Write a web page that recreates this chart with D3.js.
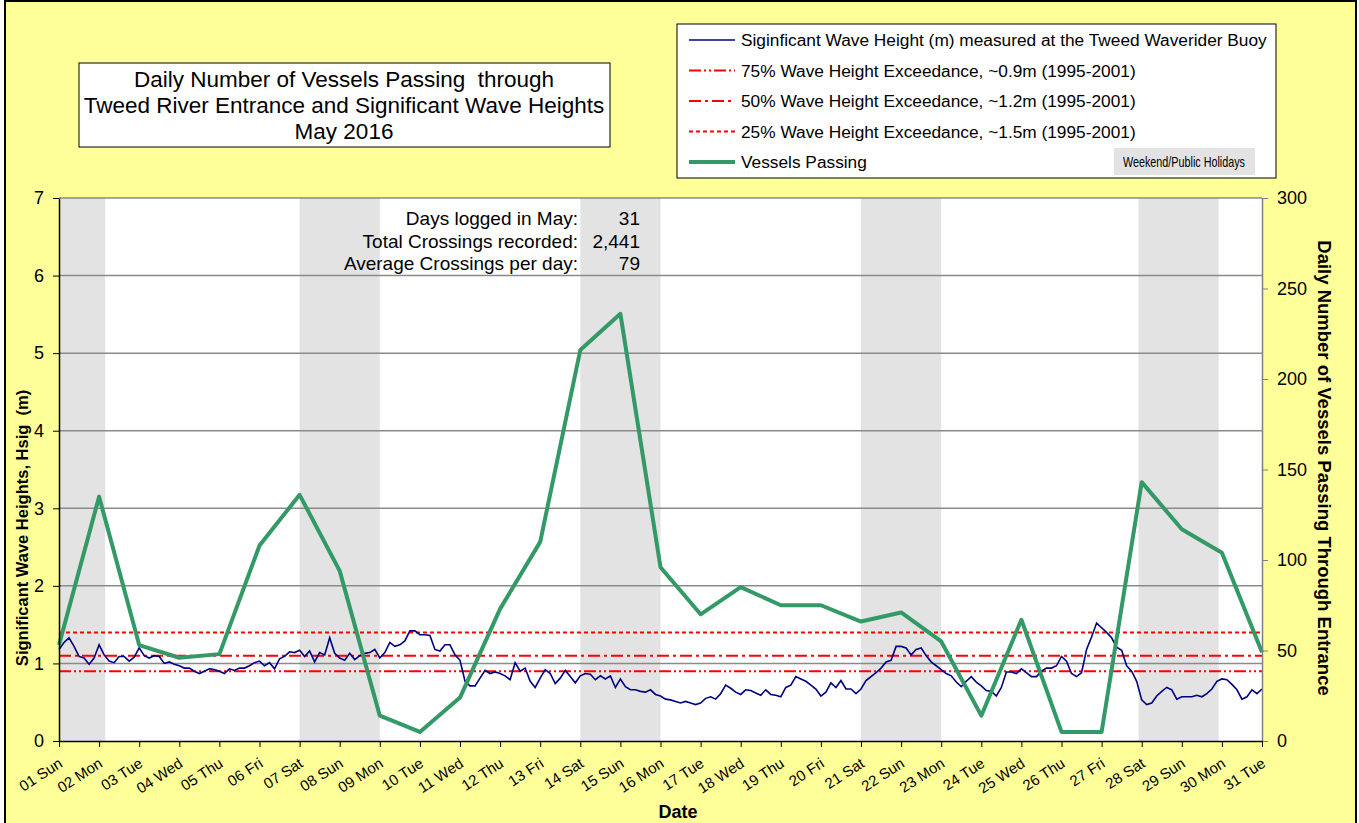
<!DOCTYPE html>
<html>
<head>
<meta charset="utf-8">
<script src="https://cdn.jsdelivr.net/npm/d3@7"></script>
<style>
  body { margin: 0; background: #fff; }
  text { font-family: "Liberation Sans", Arial, sans-serif; fill: #000; }
</style>
</head>
<body>
<svg width="1359" height="823"></svg>
<script>
// ---- data ----
const dayLabels = ["01 Sun","02 Mon","03 Tue","04 Wed","05 Thu","06 Fri","07 Sat","08 Sun","09 Mon","10 Tue",
  "11 Wed","12 Thu","13 Fri","14 Sat","15 Sun","16 Mon","17 Tue","18 Wed","19 Thu","20 Fri",
  "21 Sat","22 Sun","23 Mon","24 Tue","25 Wed","26 Thu","27 Fri","28 Sat","29 Sun","30 Mon","31 Tue"];

// daily vessels passing (right axis)
const vessels = [53,135,53,46,48,108,136,94,14,5,24,73,110,216,236,96,70,85,75,75,66,71,55,14,67,5,5,143,117,104,49];

// significant wave height (m), one reading every 3 hours from 1 May 00:00
const waveStartDay = 1;
const waveStepHours = 3;
const waveHs = [
  1.18,1.27,1.33,1.22,1.09,1.07,0.99,1.07,
  1.24,1.11,1.03,1.01,1.09,1.09,1.03,1.08,
  1.20,1.10,1.07,1.10,1.09,1.00,1.02,0.99,
  0.97,0.94,0.94,0.90,0.87,0.90,0.93,0.92,
  0.90,0.87,0.93,0.91,0.94,0.94,0.97,1.01,
  1.03,0.97,1.01,0.93,1.06,1.09,1.15,1.14,
  1.17,1.09,1.16,1.02,1.14,1.11,1.33,1.13,
  1.07,1.04,1.13,1.05,1.10,1.13,1.14,1.18,
  1.07,1.14,1.27,1.22,1.24,1.29,1.42,1.42,
  1.37,1.37,1.36,1.18,1.16,1.24,1.24,1.11,
  1.04,0.77,0.71,0.71,0.81,0.91,0.87,0.89,
  0.87,0.84,0.79,1.01,0.90,0.94,0.77,0.69,
  0.81,0.92,0.87,0.74,0.81,0.91,0.83,0.75,
  0.84,0.87,0.86,0.79,0.84,0.80,0.84,0.69,
  0.80,0.70,0.66,0.66,0.64,0.63,0.66,0.60,
  0.58,0.54,0.53,0.51,0.49,0.51,0.49,0.47,
  0.49,0.55,0.57,0.54,0.61,0.72,0.68,0.63,
  0.60,0.66,0.65,0.62,0.59,0.66,0.60,0.59,
  0.57,0.69,0.72,0.83,0.80,0.77,0.72,0.67,
  0.58,0.63,0.75,0.69,0.78,0.67,0.67,0.61,
  0.67,0.78,0.83,0.88,0.94,1.02,1.04,1.22,
  1.22,1.20,1.11,1.18,1.20,1.10,1.02,0.97,
  0.92,0.87,0.84,0.76,0.70,0.77,0.83,0.76,
  0.71,0.65,0.64,0.58,0.69,0.89,0.89,0.87,
  0.93,0.88,0.83,0.83,0.90,0.94,0.94,0.97,
  1.09,1.03,0.87,0.83,0.88,1.18,1.34,1.52,
  1.46,1.40,1.33,1.21,1.17,0.97,0.90,0.77,
  0.53,0.47,0.49,0.58,0.64,0.69,0.66,0.54,
  0.57,0.57,0.57,0.59,0.57,0.61,0.67,0.77,
  0.80,0.79,0.73,0.66,0.54,0.57,0.66,0.61,0.67
];

// weekend / public holiday bands, in days
const holidayBands = [[1, 2.15], [7, 9], [14, 16], [21, 23], [27.92, 29.92]];

// exceedance levels drawn on the chart (m)
const exceedance = [
  { label: "75% Wave Height Exceedance, ~0.9m (1995-2001)", value: 0.9, dash: "12,3,2,3,2,3" },
  { label: "50% Wave Height Exceedance, ~1.2m (1995-2001)", value: 1.1, dash: "12,4,3,4" },
  { label: "25% Wave Height Exceedance, ~1.5m (1995-2001)", value: 1.4, dash: "4,3" }
];

const statLabels = ["Days logged in May:", "Total Crossings recorded:", "Average Crossings per day:"];
const statValues = ["31", "2,441", "79"];

const titleLines = ["Daily Number of Vessels Passing  through", "Tweed River Entrance and Significant Wave Heights", "May 2016"];

const leftTicks = d3.range(0, 8);
const rightTicks = [0, 50, 100, 150, 200, 250, 300];

// ---- layout ----
const svg = d3.select("svg");
const W = 1359, H = 823;
const plot = { left: 59, right: 1262, top: 198, bottom: 741 };

const x = d3.scaleLinear().domain([1, 31]).range([plot.left, plot.right]);
const yL = d3.scaleLinear().domain([0, 7]).range([plot.bottom, plot.top]);
const yR = d3.scaleLinear().domain([0, 300]).range([plot.bottom, plot.top]);

// chart background
svg.append("rect").attr("x", 5).attr("y", 1).attr("width", W - 8).attr("height", H + 10)
  .attr("fill", "#FFFF99").attr("stroke", "#000").attr("stroke-width", 2);

svg.append("rect").attr("x", plot.left).attr("y", plot.top)
  .attr("width", plot.right - plot.left).attr("height", plot.bottom - plot.top)
  .attr("fill", "#fff");

// holiday shading
svg.append("g").selectAll("rect").data(holidayBands).join("rect")
  .attr("x", d => x(d[0])).attr("width", d => x(d[1]) - x(d[0]))
  .attr("y", plot.top).attr("height", plot.bottom - plot.top)
  .attr("fill", "#E3E3E3");

// gridlines
svg.append("g").selectAll("line").data(leftTicks.filter(d => d > 0)).join("line")
  .attr("x1", plot.left).attr("x2", plot.right)
  .attr("y1", d => yL(d)).attr("y2", d => yL(d))
  .attr("stroke", "#8a8a8a").attr("stroke-width", 1.5);

// exceedance lines
svg.append("g").selectAll("line").data(exceedance).join("line")
  .attr("x1", plot.left).attr("x2", plot.right)
  .attr("y1", d => yL(d.value)).attr("y2", d => yL(d.value))
  .attr("stroke", "#FF0000").attr("stroke-width", 2)
  .attr("stroke-dasharray", d => d.dash);

// wave height line
const wavePts = waveHs.map((v, i) => [waveStartDay + i * waveStepHours / 24, v]);
svg.append("path").datum(wavePts)
  .attr("fill", "none").attr("stroke", "#000080").attr("stroke-width", 1.6)
  .attr("d", d3.line().x(d => x(d[0])).y(d => yL(d[1])));

// vessels line
svg.append("path").datum(vessels)
  .attr("fill", "none").attr("stroke", "#339966").attr("stroke-width", 4)
  .attr("stroke-linejoin", "round")
  .attr("d", d3.line().x((d, i) => x(i + 1)).y(d => yR(d)));

// axes
const axL = svg.append("g").attr("transform", `translate(${plot.left},0)`)
  .call(d3.axisLeft(yL).tickValues(leftTicks).tickFormat(d3.format("d"))
    .tickSize(6).tickSizeOuter(0).tickPadding(9));
axL.select(".domain").attr("stroke", "#000").attr("stroke-width", 1.5);
axL.selectAll(".tick line").attr("stroke", "#000");
axL.selectAll("text").attr("font-size", 18);

const axR = svg.append("g").attr("transform", `translate(${plot.right},0)`)
  .call(d3.axisRight(yR).tickValues(rightTicks).tickSize(6).tickSizeOuter(0).tickPadding(9));
axR.select(".domain").attr("stroke", "#808080").attr("stroke-width", 1.5);
axR.selectAll(".tick line").attr("stroke", "#808080");
axR.selectAll("text").attr("font-size", 18);

const axB = svg.append("g").attr("transform", `translate(0,${plot.bottom})`)
  .call(d3.axisBottom(x).tickValues(d3.range(1, 32)).tickSize(6).tickSizeOuter(0)
    .tickFormat(d => dayLabels[d - 1]));
axB.select(".domain").attr("stroke", "#000").attr("stroke-width", 1.5);
axB.selectAll(".tick line").attr("stroke", "#000");
axB.selectAll("text").attr("font-size", 15)
  .attr("text-anchor", "end").attr("dy", null).attr("y", null)
  .attr("transform", "translate(4,25) rotate(-33)");

// axis titles
svg.append("text").attr("transform", `translate(28,528) rotate(-90)`)
  .attr("text-anchor", "middle").attr("font-size", 16.5).attr("font-weight", "bold")
  .style("white-space", "pre")
  .text("Significant Wave Heights, Hsig  (m)");
svg.append("text").attr("transform", `translate(1318,468) rotate(90)`)
  .attr("text-anchor", "middle").attr("font-size", 18.5).attr("font-weight", "bold")
  .text("Daily Number of Vessels Passing Through Entrance");
svg.append("text").attr("x", 678).attr("y", 818)
  .attr("text-anchor", "middle").attr("font-size", 18).attr("font-weight", "bold")
  .text("Date");

// statistics
const stats = svg.append("g");
stats.selectAll("text.lab").data(statLabels).join("text").attr("class", "lab")
  .attr("x", 578).attr("y", (d, i) => 225 + i * 22.5)
  .attr("text-anchor", "end").attr("font-size", 19).text(d => d);
stats.selectAll("text.val").data(statValues).join("text").attr("class", "val")
  .attr("x", 640).attr("y", (d, i) => 225 + i * 22.5)
  .attr("text-anchor", "end").attr("font-size", 19).text(d => d);

// title box
svg.append("rect").attr("x", 79).attr("y", 63).attr("width", 531).attr("height", 84)
  .attr("fill", "#fff").attr("stroke", "#000").attr("stroke-width", 1);
svg.append("g").selectAll("text").data(titleLines).join("text")
  .attr("x", 344).attr("y", (d, i) => 87 + i * 26)
  .attr("text-anchor", "middle").attr("font-size", 22.5)
  .style("white-space", "pre").text(d => d);

// legend
const lg = svg.append("g");
lg.append("rect").attr("x", 677).attr("y", 24).attr("width", 599).attr("height", 154)
  .attr("fill", "#fff").attr("stroke", "#000").attr("stroke-width", 1);
const legendItems = [
  { label: "Siginficant Wave Height (m) measured at the Tweed Waverider Buoy", color: "#000080", width: 1.6, dash: null },
  ...exceedance.map(e => ({ label: e.label, color: "#FF0000", width: 2, dash: e.dash })),
  { label: "Vessels Passing", color: "#339966", width: 4, dash: null }
];
const li = lg.selectAll("g").data(legendItems).join("g")
  .attr("transform", (d, i) => `translate(0,${40 + i * 30.5})`);
li.append("line").attr("x1", 689).attr("x2", 735).attr("y1", 0).attr("y2", 0)
  .attr("stroke", d => d.color).attr("stroke-width", d => d.width)
  .attr("stroke-dasharray", d => d.dash);
li.append("text").attr("x", 741).attr("y", 6).attr("font-size", 17.3).text(d => d.label);

lg.append("rect").attr("x", 1114).attr("y", 148).attr("width", 141).attr("height", 27).attr("fill", "#E3E3E3");
lg.append("text").attr("x", 1123).attr("y", 167)
  .attr("font-size", 14.5).attr("textLength", 122).attr("lengthAdjust", "spacingAndGlyphs")
  .text("Weekend/Public Holidays");
</script>
</body>
</html>
